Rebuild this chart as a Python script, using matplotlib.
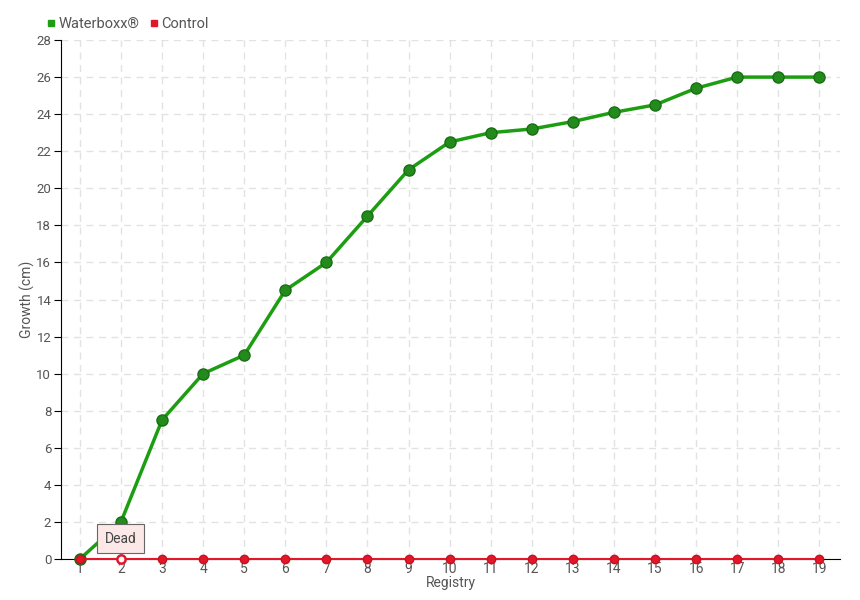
import matplotlib
matplotlib.use('Agg')
import matplotlib.pyplot as plt
from matplotlib.lines import Line2D

plt.rcParams['font.family'] = ['Roboto', 'DejaVu Sans']

registry = list(range(1, 20))
waterboxx = [0, 2, 7.5, 10, 11, 14.5, 16, 18.5, 21, 22.5, 23, 23.2, 23.6, 24.1, 24.5, 25.4, 26, 26, 26]
control = [0] * 19
dead_index = 1  # registry 2

green = '#1d9e12'
green_face = '#228b1c'
red = '#e3172a'
txt = '#555555'

fig = plt.figure(figsize=(8.6, 6), dpi=100)
ax = fig.add_axes([0.0709, 0.0683, 0.9058, 0.865])

ax.plot(registry, waterboxx, color=green, lw=2.5, marker='o', ms=8,
        mfc=green_face, mec='#1a6e14', mew=1, zorder=3, clip_on=False)
ax.plot(registry, control, color=red, lw=1.5, zorder=4, clip_on=False)
alive = [i for i in range(len(registry)) if i != dead_index]
ax.plot([registry[i] for i in alive], [control[i] for i in alive], ls='none',
        marker='o', ms=6, mfc=red, mec='#c8101f', zorder=5, clip_on=False)
ax.plot(registry[dead_index], control[dead_index], ls='none', marker='o', ms=6,
        mfc='white', mec=red, mew=1.8, zorder=5, clip_on=False)

ax.annotate('Dead', xy=(registry[dead_index], control[dead_index]),
            xytext=(registry[dead_index], 1.1), ha='center', va='center',
            fontsize=10, color='#444444',
            bbox=dict(boxstyle='square,pad=0.55', fc='#fde8e8', ec='#666666', lw=0.8),
            arrowprops=dict(arrowstyle='-', color='#666666', lw=0.8, shrinkA=0, shrinkB=3),
            zorder=6)

ax.set_xlim(0.54, 19.5)
ax.set_ylim(0, 28)
ax.set_xticks(registry)
ax.set_yticks(range(0, 29, 2))
ax.grid(True, ls=(0, (5, 4)), color='#e2e2e2', lw=1)
ax.set_axisbelow(True)
for s in ['top', 'right']:
    ax.spines[s].set_visible(False)
ax.spines['left'].set_color('black')
ax.spines['bottom'].set_color('black')
ax.tick_params(axis='y', length=5, direction='out', colors='black', labelcolor=txt, labelsize=9.5, pad=2)
ax.tick_params(axis='x', length=0, pad=2, labelcolor=txt, labelsize=10)
ax.set_xlabel('Registry', color=txt, fontsize=10, labelpad=0)
ax.set_ylabel('Growth (cm)', color=txt, fontsize=10)
ax.yaxis.set_label_coords(-0.033, 0.5)

handles = [Line2D([], [], ls='none', marker='s', ms=5, color=green),
           Line2D([], [], ls='none', marker='s', ms=5, color=red)]
fig.legend(handles, ['Waterboxx®', 'Control'], loc='upper left', bbox_to_anchor=(0.037, 0.993),
           ncol=2, frameon=False, handletextpad=0.1, columnspacing=0.6,
           handlelength=0.8, prop={'size': 10.5}, labelcolor=txt)

fig.savefig('out.png', dpi=100)
